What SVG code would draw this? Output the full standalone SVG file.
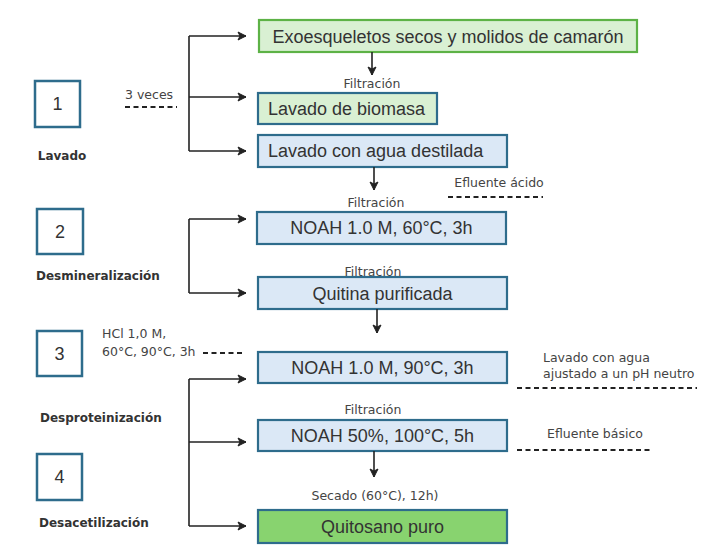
<svg xmlns="http://www.w3.org/2000/svg" width="710" height="558" viewBox="0 0 710 558">
<defs>
<marker id="ah" markerWidth="10" markerHeight="10" refX="9" refY="5" orient="auto" markerUnits="userSpaceOnUse">
<path d="M1,1 L9,5 L1,9 L3,5 Z" fill="#222" stroke="#222" stroke-width="1" stroke-linejoin="round"/>
</marker>
</defs>
<style>
.box{stroke:#2e6c8c;stroke-width:2.2}
.blue{fill:#dbe8f6}
.lgreen{fill:#d9f0d3}
.step{fill:#fff;stroke:#2e6c8c;stroke-width:2.5}
.bt{font-family:"Liberation Sans",Arial,sans-serif;font-size:18px;fill:#333}
.sm{font-family:"DejaVu Sans",sans-serif;font-size:12.5px;fill:#444}
.bold{font-family:"DejaVu Sans",sans-serif;font-size:12px;font-weight:bold;fill:#333}
.num{font-family:"Liberation Sans",Arial,sans-serif;font-size:18px;fill:#333}
.ln{fill:none;stroke:#222;stroke-width:1.6}
.dash{fill:none;stroke:#222;stroke-width:1.8;stroke-dasharray:5,3.5}
</style>
<rect width="710" height="558" fill="#fff"/>

<g id="step1">
<rect class="step" x="35" y="81" width="45" height="46"/>
<text class="num" x="57.5" y="110" text-anchor="middle">1</text>
<text class="bold" x="62" y="160" text-anchor="middle">Lavado</text>
</g>
<g id="step2">
<rect class="step" x="37" y="209" width="46" height="45"/>
<text class="num" x="60" y="238" text-anchor="middle">2</text>
<text class="bold" x="36" y="280">Desmineralización</text>
</g>
<g id="step3">
<rect class="step" x="37" y="331" width="45" height="45"/>
<text class="num" x="59.5" y="360" text-anchor="middle">3</text>
<text class="bold" x="40" y="422">Desproteinización</text>
</g>
<g id="step4">
<rect class="step" x="37" y="454" width="45" height="46"/>
<text class="num" x="59.5" y="483" text-anchor="middle">4</text>
<text class="bold" x="39" y="527">Desacetilización</text>
</g>

<g id="n-exo">
<rect x="259" y="20" width="378" height="32" fill="#d9f0d3" stroke="#5db246" stroke-width="2.2"/>
<text class="bt" x="448" y="43" text-anchor="middle">Exoesqueletos secos y molidos de camarón</text>
</g>
<g id="n-biomasa">
<rect class="box lgreen" x="258" y="93" width="179" height="31"/>
<text class="bt" x="268" y="115">Lavado de biomasa</text>
</g>
<g id="n-destilada">
<rect class="box blue" x="258" y="135" width="249" height="32"/>
<text class="bt" x="268" y="157">Lavado con agua destilada</text>
</g>
<g id="n-noah60">
<rect class="box blue" x="257" y="212" width="249" height="32"/>
<text class="bt" x="381.5" y="234" text-anchor="middle">NOAH 1.0 M, 60°C, 3h</text>
</g>
<g id="n-quitina">
<rect class="box blue" x="258" y="277" width="249" height="32"/>
<text class="bt" x="382.5" y="300" text-anchor="middle">Quitina purificada</text>
</g>
<g id="n-noah90">
<rect class="box blue" x="258" y="352" width="249" height="31"/>
<text class="bt" x="382.5" y="374" text-anchor="middle">NOAH 1.0 M, 90°C, 3h</text>
</g>
<g id="n-noah50">
<rect class="box blue" x="258" y="420" width="249" height="31"/>
<text class="bt" x="382.5" y="442" text-anchor="middle">NOAH 50%, 100°C, 5h</text>
</g>
<g id="n-quitosano">
<rect class="box" fill="#88d36f" x="258" y="510" width="249" height="33"/>
<text class="bt" x="382.5" y="533" text-anchor="middle">Quitosano puro</text>
</g>

<g id="labels">
<text class="sm" x="372" y="88" text-anchor="middle">Filtración</text>
<text class="sm" x="499" y="187" text-anchor="middle">Efluente ácido</text>
<text class="sm" x="376" y="207" text-anchor="middle">Filtración</text>
<text class="sm" x="373" y="276" text-anchor="middle">Filtración</text>
<text class="sm" x="543" y="362">Lavado con agua</text>
<text class="sm" x="543" y="378">ajustado a un pH neutro</text>
<text class="sm" x="373" y="414" text-anchor="middle">Filtración</text>
<text class="sm" x="595" y="438" text-anchor="middle">Efluente básico</text>
<text class="sm" x="375" y="500" text-anchor="middle">Secado (60°C), 12h)</text>
<text class="sm" x="125" y="99">3 veces</text>
<text class="sm" x="102" y="338">HCl 1,0 M,</text>
<text class="sm" x="102" y="356">60°C, 90°C, 3h</text>
</g>

<g id="connectors">
<path class="ln" d="M189,36 V151"/>
<path class="ln" d="M189,36 H246" marker-end="url(#ah)"/>
<path class="ln" d="M189,97 H246" marker-end="url(#ah)"/>
<path class="ln" d="M189,151 H246" marker-end="url(#ah)"/>
<path class="ln" d="M189,219 V293"/>
<path class="ln" d="M189,219 H246" marker-end="url(#ah)"/>
<path class="ln" d="M189,293 H246" marker-end="url(#ah)"/>
<path class="ln" d="M189,379 V526"/>
<path class="ln" d="M189,379 H246" marker-end="url(#ah)"/>
<path class="ln" d="M189,442 H246" marker-end="url(#ah)"/>
<path class="ln" d="M189,526 H246" marker-end="url(#ah)"/>
<path class="ln" d="M372,52 V75" marker-end="url(#ah)"/>
<path class="ln" d="M374,167 V190" marker-end="url(#ah)"/>
<path class="ln" d="M377,309 V333" marker-end="url(#ah)"/>
<path class="ln" d="M374,451 V477" marker-end="url(#ah)"/>
<path class="dash" d="M125,107 H177"/>
<path class="dash" d="M448,197 H543"/>
<path class="dash" d="M203,353 H243"/>
<path class="dash" d="M517,388 H697"/>
<path class="dash" d="M517,450 H650"/>
</g>
</svg>
